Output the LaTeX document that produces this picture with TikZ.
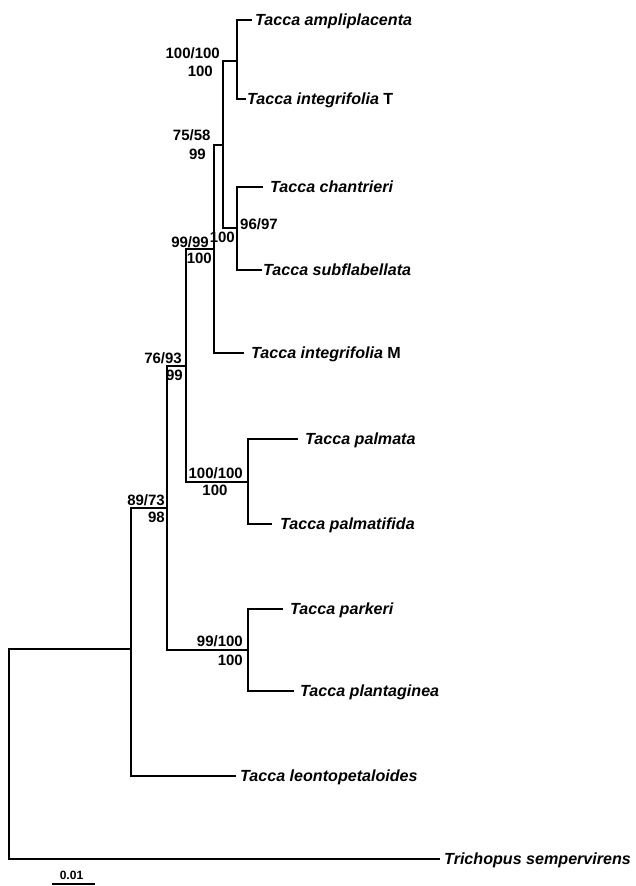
\documentclass[tikz,border=0pt]{standalone}
\usepackage{fontspec}
\setmainfont{Liberation Sans}
\begin{document}
\begin{tikzpicture}[x=1pt,y=-1pt,
  br/.style={line width=2pt, line join=miter, line cap=rect},
  taxon/.style={anchor=base west, inner sep=0pt, font=\fontsize{16.1}{18}\selectfont\bfseries\itshape},
  lblE/.style={anchor=base east, inner sep=0pt, font=\fontsize{15}{17}\selectfont\bfseries},
  lblW/.style={anchor=base west, inner sep=0pt, font=\fontsize{15}{17}\selectfont\bfseries},
  lblC/.style={anchor=base, inner sep=0pt, font=\fontsize{15}{17}\selectfont\bfseries}]
\useasboundingbox[fill=white] (0,0) rectangle (636,886);
% tips (line ends)
\coordinate (ampli) at (251,20);
\coordinate (integT) at (245,99);
\coordinate (chan) at (262,187);
\coordinate (subf) at (261,269.5);
\coordinate (integM) at (243,353);
\coordinate (palm) at (297,438.5);
\coordinate (palmf) at (271,523.5);
\coordinate (park) at (282,608.5);
\coordinate (plant) at (293,690.5);
\coordinate (leon) at (235,776);
\coordinate (trich) at (439,859);
% internal nodes
\coordinate (n1) at (237,60.5);
\coordinate (n2) at (237,228);
\coordinate (n3) at (222.5,145);
\coordinate (n4) at (214,249.3);
\coordinate (n5) at (247.5,481.5);
\coordinate (n6) at (185.5,365.5);
\coordinate (n7) at (247.5,650);
\coordinate (n8) at (166.5,508.3);
\coordinate (n9) at (130.5,649);
\coordinate (root) at (8.5,754);
% branches
\draw[br] (ampli) -- (ampli -| n1) -- (integT -| n1) -- (integT);
\draw[br] (chan) -- (chan -| n2) -- (subf -| n2) -- (subf);
\draw[br] (n1) -- (n1 -| n3) -- (n2 -| n3) -- (n2);
\draw[br] (n3) -- (n3 -| n4) -- (integM -| n4) -- (integM);
\draw[br] (palm) -- (palm -| n5) -- (palmf -| n5) -- (palmf);
\draw[br] (n4) -- (n4 -| n6) -- (n5 -| n6) -- (n5);
\draw[br] (park) -- (park -| n7) -- (plant -| n7) -- (plant);
\draw[br] (n6) -- (n6 -| n8) -- (n7 -| n8) -- (n7);
\draw[br] (n8) -- (n8 -| n9) -- (leon -| n9) -- (leon);
\draw[br] (n9) -- (n9 -| root) -- (trich -| root) -- (trich);
% taxa
\node[taxon] (tAmpli) at (255,25.5) {Tacca ampliplacenta};
\node[taxon] (tIntegT) at (247,104.5) {Tacca integrifolia\/ \upshape T};
\node[taxon] (tChan) at (270,192.5) {Tacca chantrieri};
\node[taxon] (tSubf) at (263,275) {Tacca subflabellata};
\node[taxon] (tIntegM) at (251,358.5) {Tacca integrifolia\/ \upshape M};
\node[taxon] (tPalm) at (305,444) {Tacca palmata};
\node[taxon] (tPalmf) at (280,529) {Tacca palmatifida};
\node[taxon] (tPark) at (290,614) {Tacca parkeri};
\node[taxon] (tPlant) at (300,696) {Tacca plantaginea};
\node[taxon] (tLeon) at (240,781.5) {Tacca leontopetaloides};
\node[taxon] (tTrich) at (444,864.5) {Trichopus sempervirens};
% support values
\node[lblE] (s1a) at (220,58.3) {100/100};
\node[lblE] (s1b) at (213,76.7) {100};
\node[lblE] (s3a) at (210.7,140.7) {75/58};
\node[lblE] (s3b) at (206,159.3) {99};
\node[lblW] (s2a) at (240,229.3) {96/97};
\node[lblE] (s2b) at (235,242.7) {100};
\node[lblE] (s4a) at (209,247) {99/99};
\node[lblE] (s4b) at (212,263) {100};
\node[lblE] (s6a) at (182,363.3) {76/93};
\node[lblE] (s6b) at (183,380.7) {99};
\node[lblE] (s5a) at (243,478.3) {100/100};
\node[lblC] (s5b) at (215,495) {100};
\node[lblE] (s8a) at (165,505) {89/73};
\node[lblE] (s8b) at (165,522.7) {98};
\node[lblE] (s7a) at (243,646.7) {99/100};
\node[lblE] (s7b) at (243,665) {100};
% scale bar
\coordinate (sbL) at (52,883.5);
\coordinate (sbR) at (95,883.5);
\draw[line width=2pt] (sbL) -- (sbR);
\node[anchor=base, inner sep=0pt, font=\fontsize{12}{14}\selectfont\bfseries] (sbT) at (71.5,879.5) {0.01};
\end{tikzpicture}
\end{document}
